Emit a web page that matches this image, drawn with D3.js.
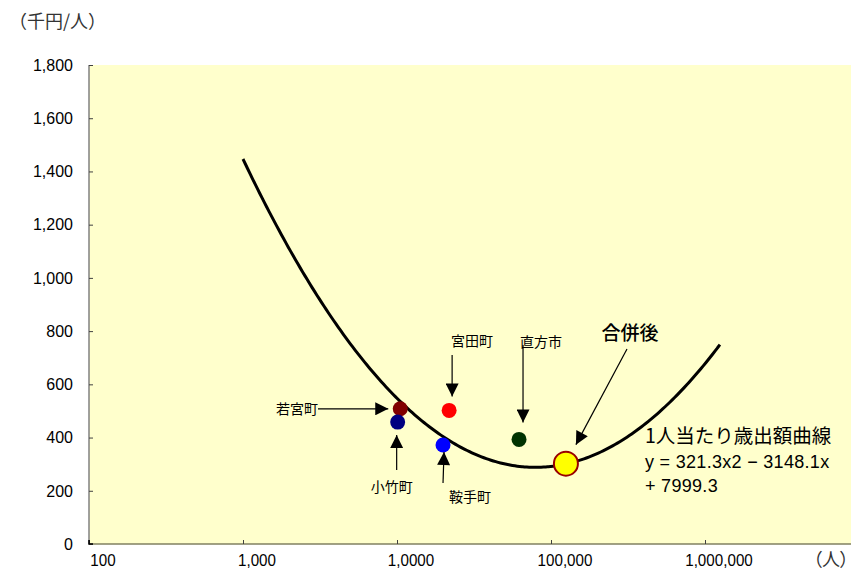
<!DOCTYPE html>
<html><head><meta charset="utf-8">
<script src="https://cdn.jsdelivr.net/npm/d3@7"></script>
<style>
body{margin:0;background:#fff;}
svg{display:block;}
</style></head>
<body><svg id="c" width="851" height="571"></svg>
<script>
// ---- data ----
const xTickValues = [100, 1000, 10000, 100000, 1000000];
const xTickLabels = ["100", "1,000", "1,0000", "100,000", "1,000,000"];
const yTickValues = [0, 200, 400, 600, 800, 1000, 1200, 1400, 1600, 1800];
const townNames = ["若宮町", "小竹町", "宮田町", "鞍手町", "直方市", "合併後"];
const townPop   = [10500, 10100, 21800, 19900, 62000, 125000];
const townSpend = [508, 458, 502, 372, 393, 302];
const townColor = ["#800000", "#000080", "#ff0000", "#0000ff", "#003300", "#ffff00"];
// trend line: y = a*x^2 + b*x + c, x = log10(population)
const trendCoef = [321.3, -3148.1, 7999.3];
const trendRange = [1000, 1250000];

const svg = d3.select("#c");
const L = 89, T = 65, B = 544, R = 859;
const x = d3.scaleLog().domain([100, 1e7]).range([L, R]);
const y = d3.scaleLinear().domain([0, 1800]).range([B, T]);

svg.append("rect").attr("x", L).attr("y", T).attr("width", R - L).attr("height", B - T).attr("fill", "#ffffcc");

// y axis
const yAxis = svg.append("g").attr("transform", `translate(${L},0)`)
  .call(d3.axisRight(y).tickValues(yTickValues).tickSize(4).tickFormat(""));
yAxis.select(".domain").attr("stroke", "#808080").attr("stroke-width", 1.5).attr("d", `M0,${T}V${B}`);
yAxis.selectAll(".tick line").attr("stroke", "#404040");
svg.append("g").selectAll("text").data(yTickValues).join("text")
  .attr("x", 73).attr("y", d => y(d)).attr("dy", "0.36em").attr("text-anchor", "end")
  .attr("font-family", "Liberation Sans, Arial, sans-serif").attr("font-size", 16).attr("fill", "#000")
  .text(d3.format(","));

// x axis
const xAxis = svg.append("g").attr("transform", `translate(0,${B})`)
  .call(d3.axisTop(x).tickValues(xTickValues).tickSize(4).tickFormat(""));
xAxis.select(".domain").attr("stroke", "#808060").attr("stroke-width", 1.5).attr("d", `M${L},0H${R}`);
xAxis.selectAll(".tick line").attr("stroke", "#404040");
svg.append("path").attr("d", `M${L},${B-4}V${B}H${L+4}`).attr("stroke", "#000").attr("fill", "none").attr("stroke-width", 1.5);
svg.append("g").selectAll("text").data(xTickValues).join("text")
  .attr("x", d => x(d) + 14).attr("y", 566).attr("text-anchor", "middle")
  .attr("font-family", "Liberation Sans, Arial, sans-serif").attr("font-size", 16).attr("fill", "#000")
  .attr("transform", d => `translate(${x(d)+14},566) scale(0.95,1.08) translate(${-(x(d)+14)},-566)`)
  .text((d, i) => xTickLabels[i]);

const cjk = "Noto Sans CJK JP, sans-serif";
svg.append("text").attr("x", 9).attr("y", 28).attr("font-family", cjk).attr("font-size", 18).attr("fill", "#333")
  .text("（千円/人）");
svg.append("text").attr("x", 849).attr("y", 566).attr("text-anchor", "end").attr("font-family", cjk)
  .attr("font-size", 18).attr("fill", "#333").style("font-feature-settings", "'palt'")
  .text("（人）");

// trend curve
const lo = Math.log10(trendRange[0]), hi = Math.log10(trendRange[1]);
const curvePts = d3.range(0, 201).map(i => {
  const lx = lo + (hi - lo) * i / 200;
  return [Math.pow(10, lx), trendCoef[0]*lx*lx + trendCoef[1]*lx + trendCoef[2]];
});
svg.append("path").datum(curvePts)
  .attr("d", d3.line().x(d => x(d[0])).y(d => y(d[1])).curve(d3.curveBasis))
  .attr("fill", "none").attr("stroke", "#000").attr("stroke-width", 3);

// points
svg.append("g").selectAll("circle").data(townNames).join("circle")
  .attr("cx", (d, i) => x(townPop[i])).attr("cy", (d, i) => y(townSpend[i]))
  .attr("r", (d, i) => i === 5 ? 12 : 7.5)
  .attr("fill", (d, i) => townColor[i])
  .attr("stroke", (d, i) => i === 5 ? "#990000" : "none").attr("stroke-width", 2);

// arrows
const defs = svg.append("defs");
defs.append("marker").attr("id", "ah2").attr("viewBox", "0 0 10 10").attr("refX", 10).attr("refY", 5)
  .attr("markerWidth", 14).attr("markerHeight", 13).attr("markerUnits", "userSpaceOnUse").attr("orient", "auto")
  .append("path").attr("d", "M0,0L10,5L0,10Z").attr("fill", "#000");
const arrow = (x1, y1, x2, y2, m) => svg.append("line").attr("x1", x1).attr("y1", y1).attr("x2", x2).attr("y2", y2)
  .attr("stroke", "#000").attr("stroke-width", 1.2).attr("marker-end", `url(#${m||"ah2"})`);
const px = i => x(townPop[i]), py = i => y(townSpend[i]);
arrow(318, py(0), px(0) - 12, py(0));            // 若宮町
arrow(px(1) - 1, 470, px(1) - 1, py(1) + 13);    // 小竹町
arrow(px(2) + 3, 355, px(2) + 3, py(2) - 14);    // 宮田町
arrow(px(3), 483, px(3) + 1, py(3) + 7);         // 鞍手町
arrow(px(4) + 4, 345, px(4) + 4, py(4) - 17);    // 直方市
arrow(627, 349, px(5) + 10, py(5) - 19);         // 合併後

const lab = (t, xx, yy, size, anchor, w) => svg.append("text").attr("x", xx).attr("y", yy)
  .attr("font-family", cjk).attr("font-size", size).attr("font-weight", w || "normal")
  .attr("text-anchor", anchor || "middle").attr("fill", "#000").text(t);
lab(townNames[0], 318, py(0) + 5, 14, "end");
lab(townNames[1], px(1) - 6, 492, 14);
lab(townNames[2], px(2) + 23, 346, 14);
lab(townNames[3], px(3) + 27, 502, 14);
lab(townNames[4], px(4) + 22, 347, 14);
lab(townNames[5], 630, 340, 19, "middle", "500");

lab("1人当たり歳出額曲線", 645, 443, 19.5, "start");
const eq = svg.append("text").attr("font-family", "Liberation Sans, Arial, sans-serif").attr("font-size", 18)
  .attr("fill", "#000").attr("letter-spacing", 0.3);
eq.append("tspan").attr("x", 645).attr("y", 468).text("y = 321.3x2 − 3148.1x");
eq.append("tspan").attr("x", 645).attr("y", 492).text("+ 7999.3");
</script></body></html>
